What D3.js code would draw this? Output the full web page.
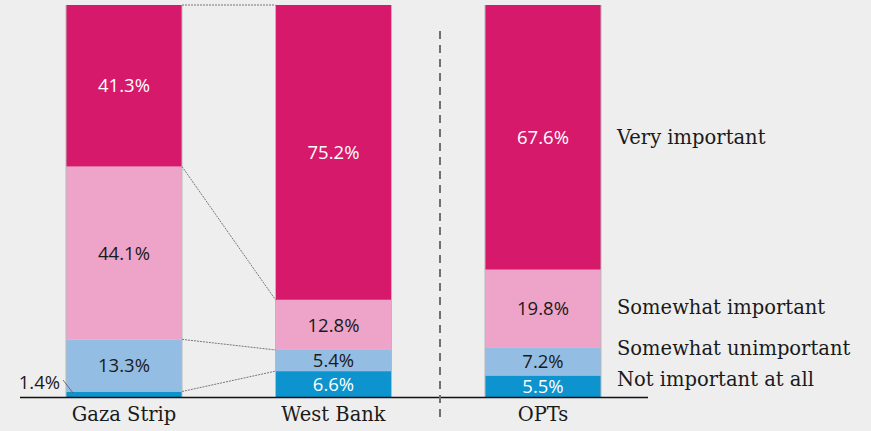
<!DOCTYPE html>
<html lang="en">
<head>
<meta charset="utf-8">
<title>Importance by region</title>
<script src="https://d3js.org/d3.v7.min.js"></script>
<style>
  html, body { margin: 0; padding: 0; background: #eeeeee; }
</style>
</head>
<body>
<script>

var regions = ["Gaza Strip", "West Bank", "OPTs"];
var levels = ["Not important at all", "Somewhat unimportant", "Somewhat important", "Very important"];
// values listed bottom to top, in the order of levels
var gazaValues = [1.4, 13.3, 44.1, 41.3];
var westBankValues = [6.6, 5.4, 12.8, 75.2];
var optsValues = [5.5, 7.2, 19.8, 67.6];
var valueTable = [gazaValues, westBankValues, optsValues];

var width = 871,
    height = 431;

var colors = ["#0d93cd", "#93bde3", "#eea3c8", "#d6196b"];
var labelColors = ["#ffffff", "#1a1a1a", "#1a1a1a", "#ffffff"];

var svg = d3.select("body").append("svg")
    .attr("width", width)
    .attr("height", height)
    .style("display", "block");

svg.append("rect").attr("width", width).attr("height", height).attr("fill", "#eeeeee");

var x = d3.scalePoint()
    .domain(regions)
    .range([124, 543]);
var barW = 116;

var y = d3.scaleLinear()
    .domain([0, 100])
    .range([397, 5]);

// stack each region bottom-up
var stacks = valueTable.map(function(vals, i) {
  var acc = 0;
  return vals.map(function(v, j) {
    var seg = { region: regions[i], level: j, value: v, y0: acc, y1: acc + v };
    acc += v;
    return seg;
  });
});
// clamp the topmost edge to 100
stacks.forEach(function(s) { s[s.length - 1].y1 = 100; });

var bars = svg.append("g").selectAll("g")
    .data(stacks)
  .enter().append("g");

bars.selectAll("rect")
    .data(function(d) { return d; })
  .enter().append("rect")
    .attr("x", function(d) { return x(d.region) - barW / 2; })
    .attr("y", function(d) { return y(d.y1); })
    .attr("width", barW)
    .attr("height", function(d) { return y(d.y0) - y(d.y1); })
    .attr("fill", function(d) { return colors[d.level]; });

// thin gray side edges
bars.each(function(d) {
  var cx = x(d[0].region);
  d3.select(this).selectAll("line.edge")
      .data([cx - barW / 2, cx + barW / 2])
    .enter().append("line")
      .attr("x1", function(e) { return e; })
      .attr("x2", function(e) { return e; })
      .attr("y1", y(100))
      .attr("y2", y(0))
      .attr("stroke", "#b9b9b9")
      .attr("stroke-width", 1);
});

// dotted connectors between Gaza Strip and West Bank
var gz = stacks[0], wb = stacks[1];
var joins = [0, 1, 2].map(function(j) { return [gz[j].y1, wb[j].y1]; });
joins.push([100, 100]);
svg.append("g").selectAll("line")
    .data(joins)
  .enter().append("line")
    .attr("x1", x(regions[0]) + barW / 2)
    .attr("x2", x(regions[1]) - barW / 2)
    .attr("y1", function(d) { return y(d[0]); })
    .attr("y2", function(d) { return y(d[1]); })
    .attr("stroke", "#777")
    .attr("stroke-width", 1)
    .attr("stroke-dasharray", "2,1");

// value labels
bars.selectAll("text")
    .data(function(d) { return d; })
  .enter().append("text")
    .filter(function(d) { return d.value >= 3; })
    .attr("x", function(d) { return x(d.region); })
    .attr("y", function(d) { return (y(d.y0) + y(d.y1)) / 2; })
    .attr("dy", "0.36em")
    .attr("text-anchor", "middle")
    .attr("font-family", "'Open Sans', sans-serif")
    .attr("font-size", 18.5)
    .attr("fill", function(d) { return labelColors[d.level]; })
    .text(function(d) { return d.value.toFixed(1) + "%"; });

// small segment label with leader
var small = gz[0];
svg.append("text")
    .attr("x", 60)
    .attr("y", 382)
    .attr("dy", "0.36em")
    .attr("text-anchor", "end")
    .attr("font-family", "'Open Sans', sans-serif")
    .attr("font-size", 18.5)
    .attr("fill", "#1a1a1a")
    .text(small.value.toFixed(1) + "%");
svg.append("line")
    .attr("x1", 63).attr("y1", 380)
    .attr("x2", x(small.region) - barW / 2 + 7).attr("y2", y(small.y0) - 4)
    .attr("stroke", "#555").attr("stroke-width", 0.8);

// baseline
svg.append("line")
    .attr("x1", 20).attr("x2", 648)
    .attr("y1", y(0) + 0.5).attr("y2", y(0) + 0.5)
    .attr("stroke", "#111").attr("stroke-width", 1.3);

// dashed separator
svg.append("line")
    .attr("x1", 440).attr("x2", 440)
    .attr("y1", 31).attr("y2", 420)
    .attr("stroke", "#707070").attr("stroke-width", 2)
    .attr("stroke-dasharray", "8,6");

// category labels
svg.append("g").selectAll("text")
    .data(regions)
  .enter().append("text")
    .attr("x", function(d) { return x(d); })
    .attr("y", 414)
    .attr("dy", "0.36em")
    .attr("text-anchor", "middle")
    .attr("font-family", "'DejaVu Serif', serif")
    .attr("font-size", 19.5)
    .attr("fill", "#1a1a1a")
    .text(function(d) { return d; });

// legend labels (positions follow OPTs segments, with nudges for small ones)
var legendY = [379, 348, 307, 137];
svg.append("g").selectAll("text")
    .data(levels)
  .enter().append("text")
    .attr("x", 617)
    .attr("y", function(d, i) { return legendY[i]; })
    .attr("dy", "0.36em")
    .attr("font-family", "'DejaVu Serif', serif")
    .attr("font-size", 19.5)
    .attr("fill", "#1a1a1a")
    .text(function(d) { return d; });

</script>
</body>
</html>
